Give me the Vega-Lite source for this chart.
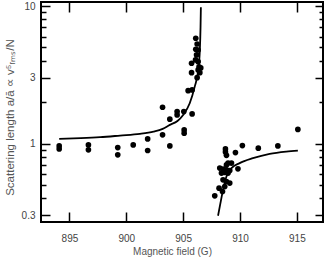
{
  "$schema": "https://vega.github.io/schema/vega-lite/v6.json",
  "width": 282,
  "height": 220,
  "autosize": {"type": "none"},
  "padding": {"left": 41, "top": 2, "right": 9, "bottom": 46},
  "background": "white",
  "config": {
    "view": {"stroke": "black", "strokeWidth": 2},
    "axis": {
      "domain": false,
      "grid": false,
      "labelFont": "Liberation Sans",
      "titleFont": "Liberation Sans",
      "labelFontSize": 10,
      "titleFontSize": 10,
      "labelColor": "#444",
      "titleColor": "#555",
      "titleFontWeight": "normal",
      "tickColor": "black",
      "tickWidth": 1.5
    }
  },
  "datasets": {
    "pts": [
      {"B": 894.10, "a": 0.962}, {"B": 894.10, "a": 0.915},
      {"B": 896.67, "a": 0.978}, {"B": 896.67, "a": 0.900},
      {"B": 899.25, "a": 0.935}, {"B": 899.25, "a": 0.828},
      {"B": 900.61, "a": 0.978},
      {"B": 901.88, "a": 1.081}, {"B": 901.88, "a": 0.890},
      {"B": 903.19, "a": 1.157}, {"B": 903.83, "a": 0.962},
      {"B": 903.19, "a": 1.838}, {"B": 903.83, "a": 1.504},
      {"B": 904.47, "a": 1.708}, {"B": 904.47, "a": 1.616},
      {"B": 905.06, "a": 1.708}, {"B": 905.79, "a": 1.643},
      {"B": 905.09, "a": 1.257}, {"B": 905.09, "a": 1.190},
      {"B": 905.44, "a": 2.426}, {"B": 905.79, "a": 2.455},
      {"B": 905.74, "a": 3.279}, {"B": 905.74, "a": 3.836},
      {"B": 906.11, "a": 5.83}, {"B": 906.23, "a": 5.30},
      {"B": 906.11, "a": 4.85}, {"B": 906.32, "a": 4.79},
      {"B": 906.18, "a": 4.41}, {"B": 906.09, "a": 4.06},
      {"B": 906.32, "a": 3.94}, {"B": 906.40, "a": 3.62},
      {"B": 906.32, "a": 3.43}, {"B": 906.47, "a": 3.279},
      {"B": 906.23, "a": 3.015}, {"B": 906.55, "a": 3.55},
      {"B": 908.72, "a": 0.915}, {"B": 908.72, "a": 0.870},
      {"B": 908.81, "a": 0.821}, {"B": 909.60, "a": 0.860},
      {"B": 908.95, "a": 0.721}, {"B": 909.25, "a": 0.721},
      {"B": 908.81, "a": 0.700}, {"B": 908.22, "a": 0.663},
      {"B": 908.51, "a": 0.652}, {"B": 908.81, "a": 0.644},
      {"B": 909.10, "a": 0.637}, {"B": 909.82, "a": 0.655},
      {"B": 908.37, "a": 0.610}, {"B": 908.66, "a": 0.616},
      {"B": 908.95, "a": 0.610}, {"B": 908.51, "a": 0.545},
      {"B": 908.81, "a": 0.530}, {"B": 909.10, "a": 0.516},
      {"B": 908.66, "a": 0.487}, {"B": 908.16, "a": 0.474},
      {"B": 908.46, "a": 0.448}, {"B": 907.78, "a": 0.417},
      {"B": 910.21, "a": 0.967}, {"B": 911.61, "a": 0.926},
      {"B": 913.33, "a": 0.962}, {"B": 915.09, "a": 1.268}
    ],
    "curve": [
      {"branch": "left", "B": 894.10, "a": 1.082},
      {"branch": "left", "B": 896.00, "a": 1.095},
      {"branch": "left", "B": 897.70, "a": 1.113},
      {"branch": "left", "B": 899.45, "a": 1.143},
      {"branch": "left", "B": 901.20, "a": 1.176},
      {"branch": "left", "B": 902.40, "a": 1.222},
      {"branch": "left", "B": 903.20, "a": 1.28},
      {"branch": "left", "B": 903.83, "a": 1.367},
      {"branch": "left", "B": 904.50, "a": 1.46},
      {"branch": "left", "B": 905.00, "a": 1.616},
      {"branch": "left", "B": 905.58, "a": 1.965},
      {"branch": "left", "B": 906.02, "a": 2.594},
      {"branch": "left", "B": 906.32, "a": 3.4},
      {"branch": "left", "B": 906.47, "a": 4.8},
      {"branch": "left", "B": 906.53, "a": 7.0},
      {"branch": "left", "B": 906.56, "a": 9.8},
      {"branch": "right", "B": 908.07, "a": 0.2985},
      {"branch": "right", "B": 908.28, "a": 0.369},
      {"branch": "right", "B": 908.51, "a": 0.461},
      {"branch": "right", "B": 908.81, "a": 0.576},
      {"branch": "right", "B": 909.25, "a": 0.663},
      {"branch": "right", "B": 909.97, "a": 0.721},
      {"branch": "right", "B": 911.14, "a": 0.783},
      {"branch": "right", "B": 912.61, "a": 0.842},
      {"branch": "right", "B": 914.07, "a": 0.875},
      {"branch": "right", "B": 915.09, "a": 0.890}
    ]
  },
  "layer": [
    {
      "data": {"name": "curve"},
      "mark": {"type": "line", "color": "black", "strokeWidth": 1.8, "interpolate": "monotone", "clip": true},
      "encoding": {
        "x": {
          "field": "B", "type": "quantitative",
          "scale": {"domain": [892.5, 917.3], "nice": false, "zero": false},
          "axis": {"orient": "top", "values": [895, 900, 905, 910, 915], "labels": false, "title": null, "tickSize": -10}
        },
        "y": {
          "field": "a", "type": "quantitative",
          "scale": {"type": "log", "domain": [0.269, 10.7], "nice": false},
          "axis": {
            "orient": "right",
            "values": [0.3, 0.4, 0.5, 0.6, 0.7, 0.8, 0.9, 1, 2, 3, 4, 5, 6, 7, 8, 9, 10],
            "labels": false, "title": null,
            "tickSize": {"condition": {"test": "indexof([0.3,1,3,10], datum.value) >= 0", "value": -8}, "value": -4}
          }
        },
        "detail": {"field": "branch"}
      }
    },
    {
      "data": {"name": "pts"},
      "mark": {"type": "circle", "color": "black", "size": 32, "opacity": 1},
      "encoding": {
        "x": {
          "field": "B", "type": "quantitative",
          "scale": {"domain": [892.5, 917.3], "nice": false, "zero": false},
          "axis": {
            "orient": "bottom", "values": [895, 900, 905, 910, 915], "tickSize": -10,
            "labelPadding": 21,
            "title": "Magnetic field (G)", "titleX": 131, "titleY": 29,
            "titleAlign": "center", "titleBaseline": "middle"
          }
        },
        "y": {
          "field": "a", "type": "quantitative",
          "scale": {"type": "log", "domain": [0.269, 10.7], "nice": false},
          "axis": {
            "orient": "left",
            "values": [0.3, 0.4, 0.5, 0.6, 0.7, 0.8, 0.9, 1, 2, 3, 4, 5, 6, 7, 8, 9, 10],
            "labelExpr": "indexof([0.3,1,3,10], datum.value) >= 0 ? format(datum.value, '~g') : ''",
            "tickSize": {"condition": {"test": "indexof([0.3,1,3,10], datum.value) >= 0", "value": -9}, "value": -5},
            "labelPadding": 15,
            "title": "Scattering length a/ā ∝ v⁵ᵣₘₛ/N",
            "titleFontSize": 11.5,
            "titleX": -31, "titleY": 115, "titleAngle": -90,
            "titleAlign": "center", "titleBaseline": "middle"
          }
        }
      }
    }
  ],
  "resolve": {"axis": {"x": "independent", "y": "independent"}}
}
